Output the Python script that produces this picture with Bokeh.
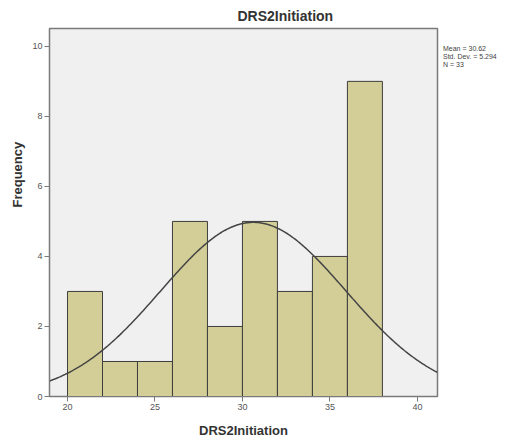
import numpy as np
from bokeh.plotting import figure
from bokeh.models import Range1d, FixedTicker, ColumnDataSource, Title, Div
from bokeh.layouts import row
from bokeh.embed import file_html
from bokeh.resources import INLINE

# Data
bin_left = [20, 22, 24, 26, 28, 30, 32, 34, 36]
bin_right = [22, 24, 26, 28, 30, 32, 34, 36, 38]
counts = [3, 1, 1, 5, 2, 5, 3, 4, 9]
mean = 30.62
std_dev = 5.294
n_obs = 33
bin_width = 2
x_ticks = [20, 25, 30, 35, 40]
y_ticks = [0, 2, 4, 6, 8, 10]
title_text = "DRS2Initiation"
x_label = "DRS2Initiation"
y_label = "Frequency"

FONT = "Liberation Sans"

p = figure(width=440, height=441, output_backend="svg", toolbar_location=None,
           x_range=Range1d(18.97, 41.15), y_range=Range1d(0, 10.51),
           min_border_left=49, min_border_right=3, min_border_top=28, min_border_bottom=45,
           title=None)

p.add_layout(Title(text=title_text, align="left", offset=188, text_font=FONT,
                   text_font_size="14px", text_font_style="bold", text_color="#333333"), "above")
p.add_layout(Title(text=y_label, align="left", offset=189, text_font=FONT,
                   text_font_size="13px", text_font_style="bold", text_color="#333333"), "left")

p.background_fill_color = "#f0f0f0"
p.border_fill_color = "white"
p.outline_line_color = "#7a7a7a"
p.outline_line_width = 1.5
p.xgrid.visible = False
p.ygrid.visible = False

src = ColumnDataSource(dict(left=bin_left, right=bin_right, top=counts, bottom=[0]*len(counts)))
p.quad(left="left", right="right", top="top", bottom="bottom", source=src,
       fill_color="#d3ce97", line_color="#3d3d3d", line_width=1)

xs = np.linspace(18.97, 41.15, 300)
ys = n_obs * bin_width / (std_dev * np.sqrt(2 * np.pi)) * np.exp(-0.5 * ((xs - mean) / std_dev) ** 2)
p.line(xs, ys, line_color="#444444", line_width=1.5)

for ax in (p.xaxis[0], p.yaxis[0]):
    ax.axis_line_color = "#7a7a7a"
    ax.major_tick_line_color = "#7a7a7a"
    ax.major_tick_out = 5
    ax.major_tick_in = 0
    ax.minor_tick_line_color = None
    ax.major_label_text_font = FONT
    ax.major_label_text_font_size = "9px"
    ax.major_label_text_color = "#555555"
    ax.major_label_standoff = 2

p.xaxis.ticker = FixedTicker(ticks=x_ticks)
p.yaxis.ticker = FixedTicker(ticks=y_ticks)

p.xaxis.axis_label = x_label
p.xaxis.axis_label_text_font = FONT
p.xaxis.axis_label_text_font_size = "13px"
p.xaxis.axis_label_text_font_style = "bold"
p.xaxis.axis_label_text_color = "#333333"
p.xaxis.axis_label_standoff = 10

stats = ["Mean = %.2f" % mean, "Std. Dev. = %.3f" % std_dev, "N = %d" % n_obs]
div = Div(text="<br>".join(stats), width=80, height=60, margin=(45, 0, 0, 3),
          styles={"font-family": FONT, "font-size": "7px", "line-height": "8px",
                  "color": "#444444", "white-space": "nowrap"})

layout = row(p, div)
open("out.html", "w").write(file_html(layout, INLINE))
